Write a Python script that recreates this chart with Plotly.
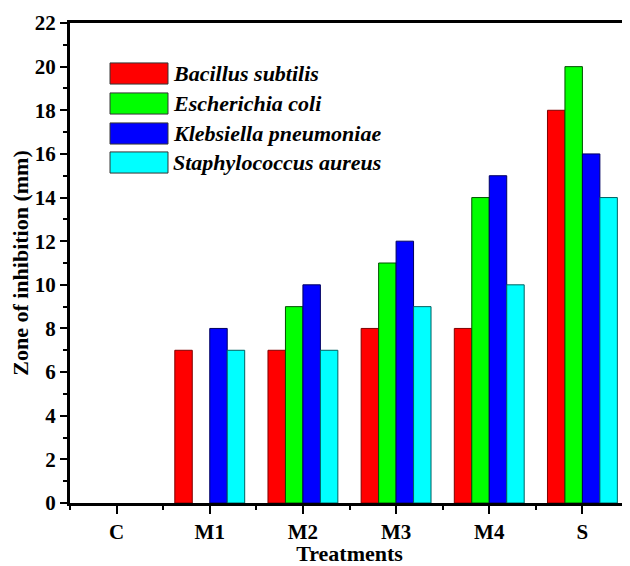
import plotly.graph_objects as go

categories = ["C", "M1", "M2", "M3", "M4", "S"]
series_names = ["Bacillus subtilis", "Escherichia coli", "Klebsiella pneumoniae", "Staphylococcus aureus"]
bacillus = [0, 7, 7, 8, 8, 18]
ecoli = [0, 0, 9, 11, 14, 20]
klebsiella = [0, 8, 10, 12, 15, 16]
staph = [0, 7, 7, 9, 10, 14]
y_ticks = list(range(0, 23, 2))

series_values = [bacillus, ecoli, klebsiella, staph]
fill_colors = ["#ff0000", "#00ff00", "#0000ff", "#00ffff"]
edge_colors = ["#800000", "#005000", "#000060", "#006060"]

FONT = "Times New Roman, Liberation Serif, serif"
xpos = list(range(len(categories)))

fig = go.Figure()
for name, vals, fc, ec in zip(series_names, series_values, fill_colors, edge_colors):
    fig.add_trace(go.Bar(
        x=xpos, y=vals, name=name,
        marker=dict(color=fc, line=dict(color=ec, width=[1 if v > 0 else 0 for v in vals])),
        showlegend=False,
    ))

# manual legend (large rectangles like the original)
box_x0, box_x1 = 0.0716, 0.1753
row_y = [0.8948, 0.8323, 0.7698, 0.7094]
box_h = 0.0440
for name, fc, yc in zip(series_names, fill_colors, row_y):
    fig.add_shape(type="rect", xref="paper", yref="paper",
                  x0=box_x0, x1=box_x1, y0=yc - box_h / 2, y1=yc + box_h / 2,
                  fillcolor=fc, line=dict(color="#333333", width=1))
    fig.add_annotation(xref="paper", yref="paper", x=box_x1 + 0.005, y=yc,
                       text=f"<b><i>{name}</i></b>", showarrow=False,
                       xanchor="left", yanchor="middle",
                       font=dict(family=FONT, size=22, color="black"))

# thin right border
fig.add_shape(type="line", xref="paper", yref="paper", x0=1, x1=1, y0=0, y1=1,
              line=dict(color="black", width=1))

# page body has an 8px margin, so the figure is 8px smaller to fit the 630x566 window
fig.update_layout(
    width=622, height=558,
    margin=dict(l=62, r=1, t=15, b=63),
    paper_bgcolor="white", plot_bgcolor="white",
    barmode="group", bargap=0.25, bargroupgap=0,
    font=dict(family=FONT, color="black"),
)
fig.update_xaxes(
    range=[-0.5, 5.5],
    tickmode="array", tickvals=xpos, ticktext=[f"<b>{c}</b>" for c in categories],
    ticks="outside", ticklen=8, tickwidth=2, tickcolor="black",
    minor=dict(tickmode="array", tickvals=[i + 0.5 for i in range(-1, len(categories))],
               ticks="outside", ticklen=4, tickwidth=2, tickcolor="black"),
    showline=True, linewidth=3, linecolor="black", mirror=True,
    showgrid=False, zeroline=False,
    tickfont=dict(family=FONT, size=21, color="black"),
    title=dict(text="<b>Treatments</b>", font=dict(family=FONT, size=22, color="black"), standoff=0),
)
fig.update_yaxes(
    range=[0, 22],
    tickmode="array", tickvals=y_ticks, ticktext=[f"<b>{v}</b>" for v in y_ticks],
    ticks="outside", ticklen=7, tickwidth=2, tickcolor="black",
    minor=dict(tickmode="linear", tick0=1, dtick=2,
               ticks="outside", ticklen=4, tickwidth=2, tickcolor="black"),
    showline=True, linewidth=3, linecolor="black",
    showgrid=False, zeroline=False,
    tickfont=dict(family=FONT, size=21, color="black"),
    title=dict(text="<b>Zone of inhibition (mm)</b>", font=dict(family=FONT, size=22, color="black"), standoff=6),
)

fig.write_html("out.html")
